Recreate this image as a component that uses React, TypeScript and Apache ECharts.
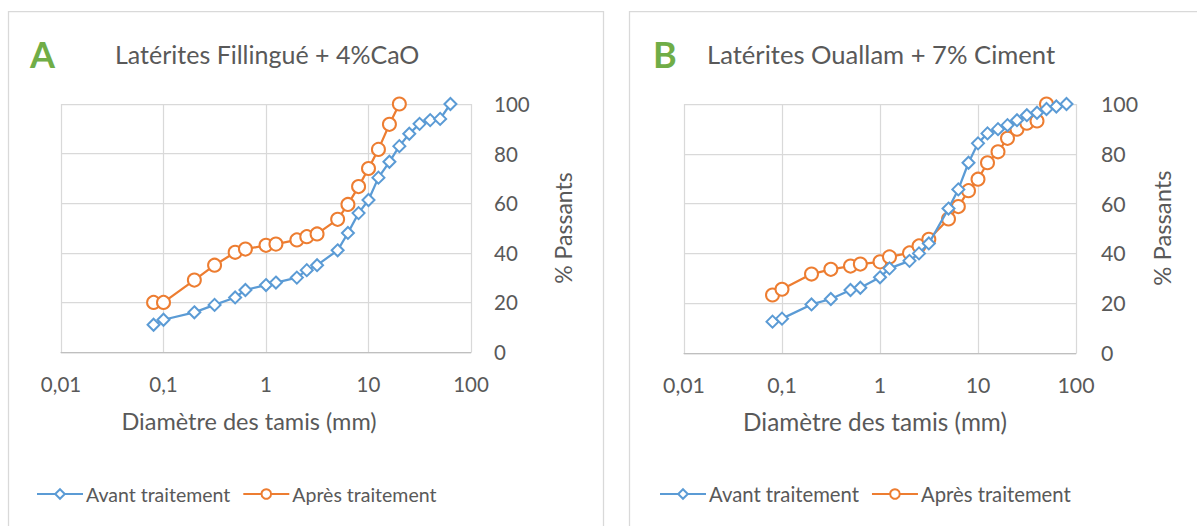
import React, { useEffect, useRef } from "react";
import * as echarts from "echarts";

// Chart A: Latérites Fillingué + 4%CaO
const sievesAvantA = [0.08, 0.1, 0.2, 0.315, 0.5, 0.63, 1, 1.25, 2, 2.5, 3.15, 5, 6.3, 8, 10, 12.5, 16, 20, 25, 31.5, 40, 50, 63];
const avantA = [11, 13, 16, 19, 22, 25, 27, 28, 30, 33, 35, 41, 48, 56, 61.3, 70.3, 76.7, 83, 88, 92, 93.5, 94, 100];
const sievesApresA = [0.08, 0.1, 0.2, 0.315, 0.5, 0.63, 1, 1.25, 2, 2.5, 3.15, 5, 6.3, 8, 10, 12.5, 16, 20];
const apresA = [20, 20, 29, 35, 40.2, 41.5, 43, 43.5, 45.2, 46.5, 47.6, 53.5, 59.5, 66.7, 74, 81.7, 91.8, 100];

// Chart B: Latérites Ouallam + 7% Ciment
const sievesAvantB = [0.08, 0.1, 0.2, 0.315, 0.5, 0.63, 1, 1.25, 2, 2.5, 3.15, 5, 6.3, 8, 10, 12.5, 16, 20, 25, 31.5, 40, 50, 63, 80];
const avantB = [12.6, 13.8, 19.5, 21.7, 25.3, 26.2, 30.4, 34, 37, 40, 44, 58, 65.7, 76.4, 84.2, 88.2, 89.9, 91.5, 93.5, 95.5, 96.5, 98, 99, 100];
const sievesApresB = [0.08, 0.1, 0.2, 0.315, 0.5, 0.63, 1, 1.25, 2, 2.5, 3.15, 5, 6.3, 8, 10, 12.5, 16, 20, 25, 31.5, 40, 50];
const apresB = [23.3, 25.6, 31.7, 33.6, 34.9, 35.7, 36.6, 38.6, 40.2, 43, 45.7, 53.8, 58.8, 65.2, 69.8, 76.4, 80.8, 86.2, 89.9, 92.3, 93.2, 100];

const xTicks = [0.01, 0.1, 1, 10, 100];
const yTicks = [0, 20, 40, 60, 80, 100];
const seriesNames = ["Avant traitement", "Après traitement"];
const titleA = "Latérites Fillingué + 4%CaO";
const titleB = "Latérites Ouallam + 7% Ciment";
const xTitle = "Diamètre des tamis (mm)";
const yTitle = "% Passants";

const BLUE = "#5B9BD5";
const ORANGE = "#ED7D31";
const TEXT = "#595959";
const GRIDC = "#D9D9D9";
const FONT = "Lato, 'Noto Sans', sans-serif";

const zip = (xs: number[], ys: number[]) => xs.map((x, i) => [x, ys[i]]);

const fmtX = (v: number) => Number(v.toPrecision(6)).toString().replace(".", ",");

export default function App() {
  const ref = useRef<HTMLDivElement>(null);
  useEffect(() => {
    if (!ref.current) return;
    const chart = echarts.init(ref.current, null, { renderer: "svg" });
    const grids = [
      { left: 61, top: 104, width: 410, height: 248 },
      { left: 684, top: 104, width: 392, height: 249 },
    ];
    const scale = [1, 1.04];
    const xAxis = grids.map((_, i) => ({
      type: "log",
      logBase: 10,
      gridIndex: i,
      min: xTicks[0],
      max: xTicks[xTicks.length - 1],
      axisLine: { show: true, lineStyle: { color: "#BFBFBF", width: 1.25 } },
      axisTick: { show: false },
      splitLine: { show: true, lineStyle: { color: GRIDC, width: 1.25 } },
      axisLabel: { formatter: fmtX, color: TEXT, fontSize: 20.5 * scale[i], fontFamily: FONT, margin: 21 },
    }));
    const yAxis = grids.map((_, i) => ({
      type: "value",
      gridIndex: i,
      position: "right",
      min: yTicks[0],
      max: yTicks[yTicks.length - 1],
      interval: 20,
      axisLine: { show: false },
      axisTick: { show: false },
      splitLine: { show: true, lineStyle: { color: GRIDC, width: 1.25 } },
      axisLabel: { color: TEXT, fontSize: 20.5 * scale[i], fontFamily: FONT, margin: i === 0 ? 23 : 25 },
    }));
    const mk = (name: string, idx: number, data: number[][], color: string, symbol: string, size: number) => ({
      type: "line",
      name,
      xAxisIndex: idx,
      yAxisIndex: idx,
      data,
      symbol,
      symbolSize: size,
      showAllSymbol: true,
      lineStyle: { color, width: 2.25 },
      itemStyle: { color, borderColor: color, borderWidth: 1.75 },
      z: name === seriesNames[0] ? 3 : 2,
    });
    const series = [
      mk(seriesNames[0], 0, zip(sievesAvantA, avantA), BLUE, "emptyDiamond", 12),
      mk(seriesNames[1], 0, zip(sievesApresA, apresA), ORANGE, "emptyCircle", 13),
      mk(seriesNames[0], 1, zip(sievesAvantB, avantB), BLUE, "emptyDiamond", 12),
      mk(seriesNames[1], 1, zip(sievesApresB, apresB), ORANGE, "emptyCircle", 13),
    ];
    const legend = [36, 659].map((left, i) => ({
      left,
      top: 484,
      padding: 0,
      data: seriesNames,
      itemWidth: 46,
      itemHeight: 12,
      itemGap: 12,
      selectedMode: false,
      textStyle: { color: TEXT, fontSize: 19.5 * scale[i], fontFamily: FONT, padding: [0, 0, 0, -2] },
    }));
    const txt = (x: number, y: number, text: string, size: number, fill: string, extra: any = {}) => ({
      type: "text",
      x,
      y,
      style: { text, fontSize: size, fill, fontFamily: FONT, verticalAlign: "middle", ...extra },
      silent: true,
    });
    const graphic = [
      { type: "rect", shape: { x: 8.5, y: 11.5, width: 595, height: 540 }, style: { fill: "none", stroke: GRIDC, lineWidth: 1.25 } },
      { type: "rect", shape: { x: 629.5, y: 11.5, width: 600, height: 540 }, style: { fill: "none", stroke: GRIDC, lineWidth: 1.25 } },
      txt(30, 54, "A", 36, "#70AD47", { fontWeight: "bold" }),
      txt(115, 54, titleA, 25, TEXT),
      txt(653, 54, "B", 36, "#70AD47", { fontWeight: "bold" }),
      txt(707, 54, titleB, 25.6, TEXT),
      txt(249, 421, xTitle, 23.5, TEXT, { align: "center" }),
      txt(875, 421, xTitle, 24.3, TEXT, { align: "center" }),
      { ...txt(563, 228, yTitle, 23, TEXT, { align: "center" }), rotation: Math.PI / 2 },
      { ...txt(1162, 228, yTitle, 23.8, TEXT, { align: "center" }), rotation: Math.PI / 2 },
    ];
    chart.setOption({
      animation: false,
      backgroundColor: "#FFFFFF",
      textStyle: { fontFamily: FONT },
      grid: grids,
      xAxis,
      yAxis,
      series,
      legend,
      graphic,
    });
    return () => chart.dispose();
  }, []);
  return <div ref={ref} style={{ position: "absolute", left: 0, top: 0, width: 1197, height: 526 }} />;
}
